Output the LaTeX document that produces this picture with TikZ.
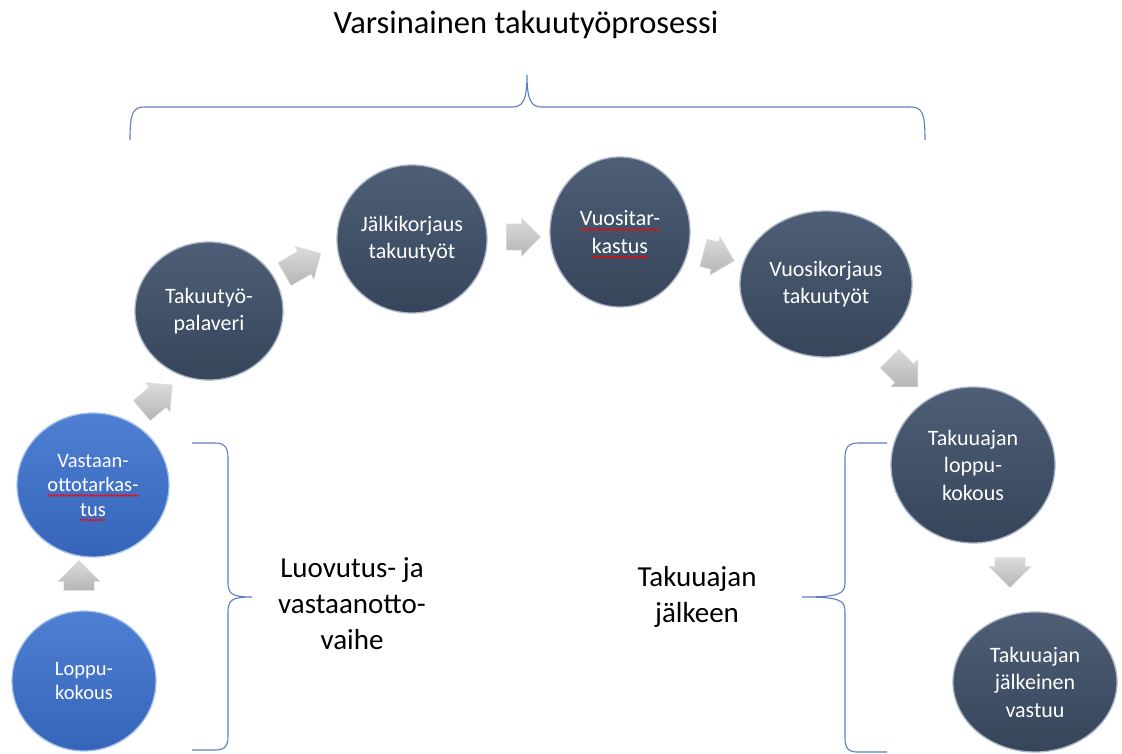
\documentclass[tikz,border=0pt]{standalone}
\usepackage{fontspec}
\setmainfont{Carlito}
\usetikzlibrary{shapes.geometric,shapes.arrows,decorations.pathmorphing}
\definecolor{slatetop}{HTML}{4D5E76}
\definecolor{slatebot}{HTML}{36455A}
\definecolor{slaterim}{HTML}{A9B4C4}
\definecolor{bluetop}{HTML}{4F80D3}
\definecolor{bluebot}{HTML}{3564B8}
\definecolor{bluerim}{HTML}{A8C2EC}
\definecolor{braceblue}{HTML}{5B7FC0}
\newdimen\sqw
\newcommand\squig[1]{\setbox0\hbox{#1}\global\sqw=\wd0\rlap{\box0}\tikz[baseline=0pt]{\useasboundingbox (0pt,0pt) rectangle (\sqw,1pt);\draw[red,line width=0.7pt,decorate,decoration={snake,amplitude=0.9pt,segment length=3pt}] (0pt,-4pt) -- (\sqw,-4pt);}}
\begin{document}
\begin{tikzpicture}[x=1pt,y=-1pt,
  dark/.style={ellipse, inner sep=0pt, align=center, text=white,
    font=\fontsize{22}{27.5}\selectfont,
    top color=slatetop, bottom color=slatebot, draw=slaterim, line width=1.3pt},
  bluec/.style={dark, font=\fontsize{20.5}{24.5}\selectfont,
    top color=bluetop, bottom color=bluebot, draw=bluerim},
  blk/.style={single arrow, single arrow head extend=6pt, inner xsep=0pt, inner ysep=13pt,
    top color=gray!28, bottom color=gray!58, draw=gray!22, line width=0.4pt},
  brace/.style={draw=braceblue, line width=1.1pt},
  lab/.style={align=center, text=black, font=\fontsize{29}{36}\selectfont}]
\useasboundingbox (0,0) rectangle (1122,754);
\fill[white] (0,0) rectangle (1122,754);

% title and top brace
\node[font=\fontsize{32.5}{38}\selectfont] (title) at (526,25) {Varsinainen takuutyöprosessi};
\draw[brace] (130,140) .. controls (130,112) and (133,107) .. (145,107) -- (512,107)
  .. controls (522,107) and (527,102) .. (527,75)
  .. controls (527,102) and (532,107) .. (542,107) -- (910,107)
  .. controls (922,107) and (925,112) .. (925,140);

% circles
\node[bluec, minimum width=144pt, minimum height=140pt] (loppu) at (84,681) {Loppu-\\kokous};
\node[bluec, minimum width=152pt, minimum height=144pt] (vast) at (93,485) {Vastaan-\\\squig{ottotarkas-}\\\squig{tus}};
\node[dark, minimum width=148pt, minimum height=138pt] (palav) at (209,311) {Takuutyö-\\palaveri};
\node[dark, minimum width=150pt, minimum height=148pt] (jalki) at (412,239) {Jälkikorjaus\\takuutyöt};
\node[dark, minimum width=140pt, minimum height=150pt] (vuosit) at (620,232) {\squig{Vuositar-}\\\squig{kastus}};
\node[dark, minimum width=172pt, minimum height=146pt] (vuosik) at (826,284) {Vuosikorjaus\\takuutyöt};
\node[dark, minimum width=164pt, minimum height=156pt] (tloppu) at (973,465) {Takuuajan\\loppu-\\kokous};
\node[dark, minimum width=164pt, minimum height=140pt] (tjalk) at (1035,682) {Takuuajan\\jälkeinen\\vastuu};

% block arrows
\node[blk, minimum height=30pt, inner ysep=15pt, rotate=90] (a1) at (79,583) {};
\node[blk, minimum height=40pt, rotate=40] (a2) at (152,402) {};
\node[blk, minimum height=42pt, rotate=30] (a3) at (297,267) {};
\node[blk, minimum height=34pt, rotate=0] (a4) at (517,237) {};
\node[blk, minimum height=32pt, inner ysep=14pt, rotate=-15] (a5) at (712,255) {};
\node[blk, minimum height=40pt, rotate=-45] (a6) at (899,368) {};
\node[blk, minimum height=30pt, inner ysep=15pt, rotate=-90] (a7) at (1010,565) {};

% left brace
\draw[brace] (192,443) -- (215,443) .. controls (225,443) and (228,448) .. (228,458) -- (228,582)
  .. controls (228,594) and (232,597) .. (252,597)
  .. controls (232,597) and (228,600) .. (228,612) -- (228,736)
  .. controls (228,746) and (225,750) .. (215,750) -- (192,750);
\node[lab] (luov) at (352,604) {Luovutus- ja\\vastaanotto-\\vaihe};

% right brace
\draw[brace] (887,443) -- (858,443) .. controls (848,443) and (845,448) .. (845,458) -- (845,582)
  .. controls (845,594) and (840,597) .. (802,597)
  .. controls (840,597) and (845,600) .. (845,612) -- (845,738)
  .. controls (845,748) and (848,752) .. (858,752) -- (887,752);
\node[lab] (tjl) at (697,597) {Takuuajan\\jälkeen};
\end{tikzpicture}
\end{document}
